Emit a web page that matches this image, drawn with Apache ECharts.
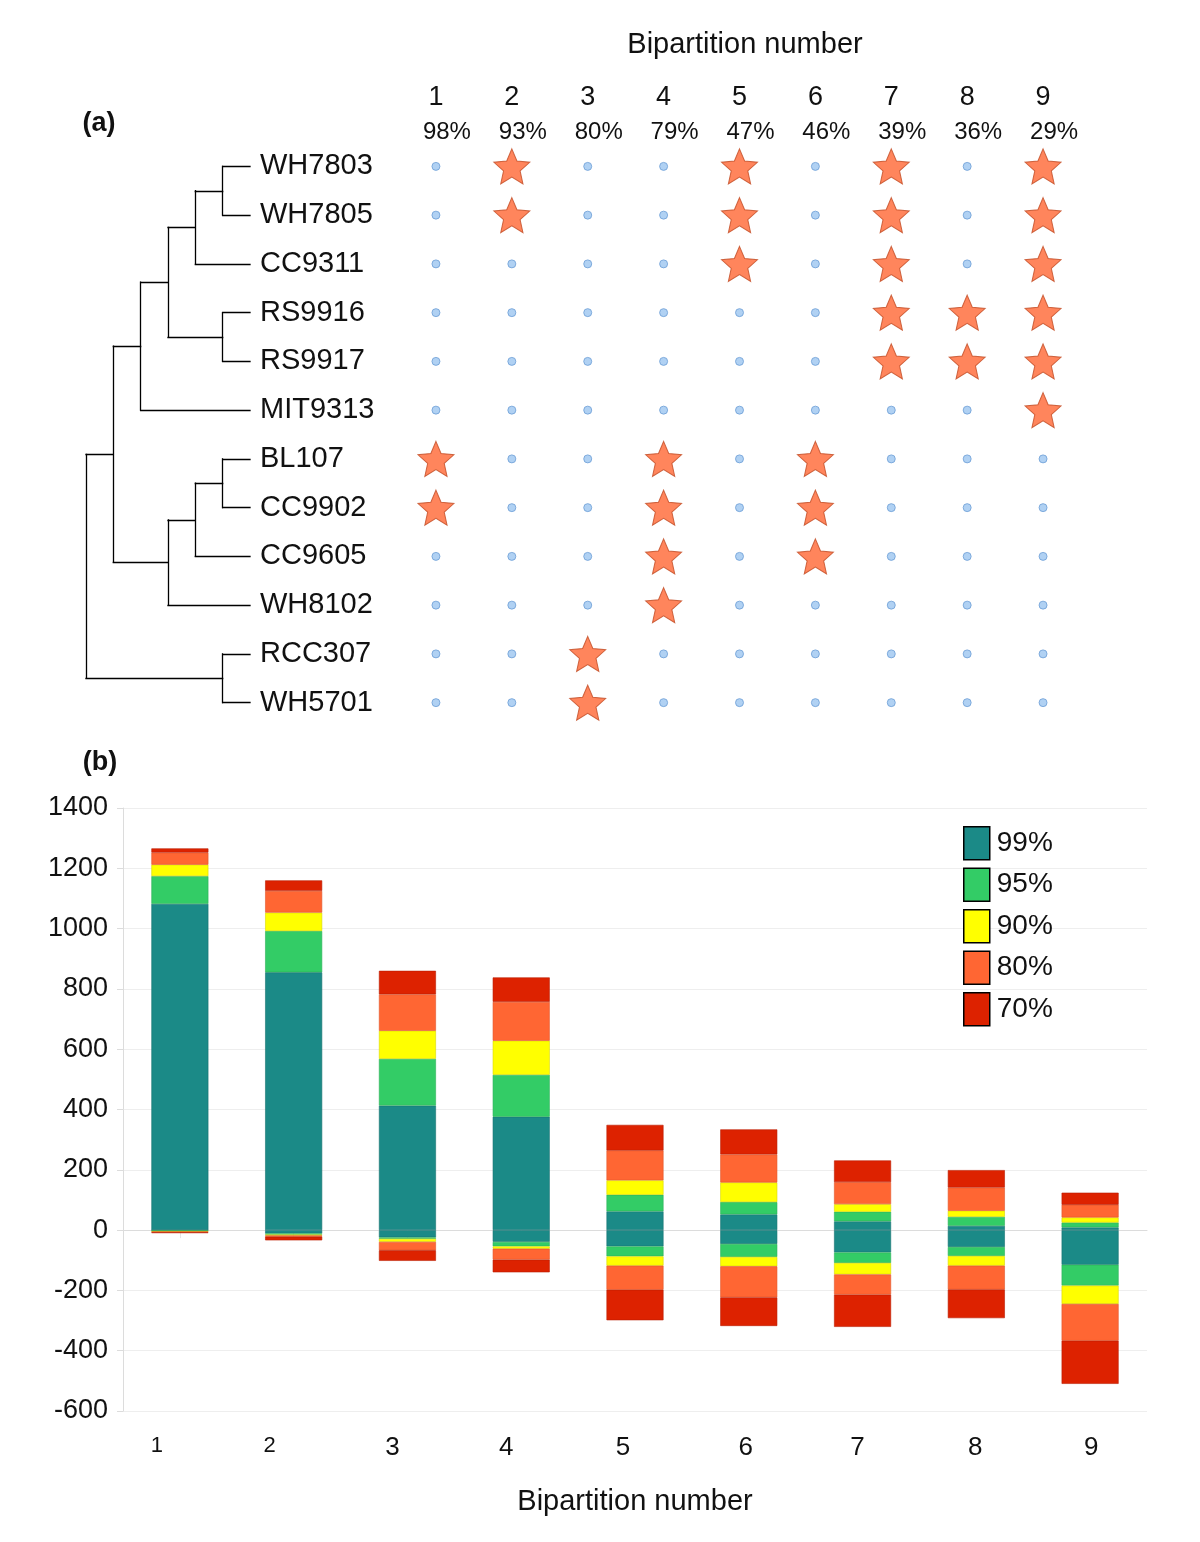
<!DOCTYPE html>
<html>
<head>
<meta charset="utf-8">
<script src="https://cdn.jsdelivr.net/npm/echarts@6/dist/echarts.min.js"></script>
<style>
  html, body { margin: 0; padding: 0; background: #fff; }
  #chart { width: 1200px; height: 1542px; }
</style>
</head>
<body>
<div id="chart"></div>
<script>
// ---------- DATA ----------
const taxa = ['WH7803','WH7805','CC9311','RS9916','RS9917','MIT9313','BL107','CC9902','CC9605','WH8102','RCC307','WH5701'];
const bipartitions = ['1','2','3','4','5','6','7','8','9'];
const bipSupport = ['98%','93%','80%','79%','47%','46%','39%','36%','29%'];
// taxa on one side of each bipartition (shown as stars)
const bipMembers = [
  ['BL107','CC9902'],
  ['WH7803','WH7805'],
  ['RCC307','WH5701'],
  ['BL107','CC9902','CC9605','WH8102'],
  ['WH7803','WH7805','CC9311'],
  ['BL107','CC9902','CC9605'],
  ['WH7803','WH7805','CC9311','RS9916','RS9917'],
  ['RS9916','RS9917'],
  ['WH7803','WH7805','CC9311','RS9916','RS9917','MIT9313']
];
// cladogram: d = node depth level, leaves at leafDepth
const leafDepth = 6;
const tree = {d:0, c:[
  {d:1, c:[
    {d:2, c:[
      {d:3, c:[
        {d:4, c:[{d:5, c:['WH7803','WH7805']}, 'CC9311']},
        {d:5, c:['RS9916','RS9917']}
      ]},
      'MIT9313'
    ]},
    {d:3, c:[
      {d:4, c:[{d:5, c:['BL107','CC9902']}, 'CC9605']},
      'WH8102'
    ]}
  ]},
  {d:5, c:['RCC307','WH5701']}
]};

// bar chart (b)
const levels = ['99%','95%','90%','80%','70%'];
const pos99 = [1082, 855, 413, 376, 62, 52, 29, 14, 9];
const pos95 = [92, 137, 155, 139, 55, 41, 32, 30, 16];
const pos90 = [38, 61, 93, 113, 48, 65, 25, 20, 17];
const pos80 = [40, 72, 121, 129, 99, 93, 73, 77, 42];
const pos70 = [14, 35, 78, 81, 85, 83, 72, 58, 40];
const neg99 = [-1, -11, -24, -39, -54, -46, -74, -56, -115];
const neg95 = [-3, -4, -5, -15, -33, -43, -35, -30, -69];
const neg90 = [-1, -3, -10, -8, -31, -31, -38, -32, -61];
const neg80 = [-2, -4, -28, -36, -80, -103, -67, -79, -122];
const neg70 = [-3, -12, -35, -42, -101, -95, -107, -95, -143];
const yTicks = {min: -600, max: 1400, step: 200};

// ---------- STYLE ----------
const FONT = 'Liberation Sans, Arial, Helvetica, sans-serif';
const levelColors = ['#1b8a87', '#33cc66', '#ffff00', '#ff6633', '#dd2200'];
const levelBorders = ['#167270', '#2bb058', '#d8d800', '#e0552a', '#bb1c00'];
const xLabelShift = [-23, -24, -15, -15, -12, -3, -5, -1, 1];
const xLabelSize = [22, 22, 26, 26, 26, 26, 26, 26, 26];

// ---------- BUILD ----------
const segments = [];
function layout(node) {
  if (typeof node === 'string') return {x: leafDepth, y: taxa.indexOf(node)};
  const kids = node.c.map(layout);
  const ys = kids.map(k => k.y);
  const y = ys.reduce((a, b) => a + b, 0) / ys.length;
  segments.push({coords: [[node.d, Math.min(...ys)], [node.d, Math.max(...ys)]]});
  kids.forEach(k => segments.push({coords: [[node.d, k.y], [k.x, k.y]]}));
  return {x: node.d, y: y};
}
layout(tree);

const starData = [], dotData = [];
bipMembers.forEach((mem, b) => {
  taxa.forEach((t, i) => {
    (mem.indexOf(t) >= 0 ? starData : dotData).push([b, i]);
  });
});

const posSets = [pos99, pos95, pos90, pos80, pos70];
const negSets = [neg99, neg95, neg90, neg80, neg70];
const barSeries = [];
[posSets, negSets].forEach(sets => {
  sets.forEach((vals, k) => {
    barSeries.push({
      type: 'bar', name: levels[k], stack: 'all', xAxisIndex: 3, yAxisIndex: 2,
      barWidth: 57, data: vals,
      itemStyle: {color: levelColors[k], borderColor: levelBorders[k], borderWidth: 0.6},
      emphasis: {disabled: true}
    });
  });
});

// five-pointed star symbol (inner radius 0.46 of outer)
function starPath() {
  let d = '';
  for (let i = 0; i < 10; i++) {
    const r = i % 2 === 0 ? 50 : 23;
    const a = -Math.PI / 2 + i * Math.PI / 5;
    d += (i === 0 ? 'M' : 'L') + (50 + r * Math.cos(a)).toFixed(2) + ',' + (50 + r * Math.sin(a)).toFixed(2) + ' ';
  }
  return 'path://' + d + 'Z';
}
const STAR = starPath();

const xRich = {};
bipartitions.forEach((b, i) => {
  const s = xLabelShift[i];
  xRich['s' + i] = {
    fontSize: xLabelSize[i], fontFamily: FONT, color: '#111',
    padding: s < 0 ? [0, -2 * s, 0, 0] : [0, 0, 0, 2 * s]
  };
});

const option = {
  backgroundColor: '#fff',
  animation: false,
  textStyle: {fontFamily: FONT},
  graphic: [
    {type: 'text', x: 745, y: 45, style: {text: 'Bipartition number', font: '29px ' + FONT, fill: '#111', textAlign: 'center', textVerticalAlign: 'middle'}},
    {type: 'text', x: 99, y: 124, style: {text: '(a)', font: 'bold 27px ' + FONT, fill: '#111', textAlign: 'center', textVerticalAlign: 'middle'}},
    {type: 'text', x: 100, y: 763, style: {text: '(b)', font: 'bold 27px ' + FONT, fill: '#111', textAlign: 'center', textVerticalAlign: 'middle'}}
  ],
  legend: {
    data: levels, orient: 'vertical', left: 963, top: 826, padding: 0,
    itemWidth: 26, itemHeight: 33, itemGap: 7, icon: 'rect',
    itemStyle: {borderColor: '#000', borderWidth: 1.5},
    textStyle: {fontSize: 28, color: '#111', fontFamily: FONT, padding: [0, 0, 0, 2]},
    selectedMode: false
  },
  grid: [
    {left: 86, width: 164, top: 142, height: 585, outerBoundsMode: 'none'},
    {left: 398, width: 683, top: 142, height: 585, outerBoundsMode: 'none'},
    {left: 123, right: 53, top: 808, bottom: 131, outerBoundsMode: 'none'}
  ],
  xAxis: [
    {gridIndex: 0, type: 'value', min: 0, max: leafDepth, show: false},
    {gridIndex: 1, type: 'category', data: bipartitions, position: 'top',
     axisLine: {show: false}, axisTick: {show: false}, splitLine: {show: false},
     axisLabel: {fontSize: 27, color: '#111', margin: 31, fontFamily: FONT}},
    {gridIndex: 1, type: 'category', data: bipSupport, position: 'top',
     axisLine: {show: false}, axisTick: {show: false}, splitLine: {show: false},
     axisLabel: {margin: -2, formatter: v => '{p|' + v + '}',
       rich: {p: {fontSize: 24, color: '#111', fontFamily: FONT, padding: [0, 0, 0, 22]}}}},
    {gridIndex: 2, type: 'category', data: bipartitions,
     axisLine: {show: true, lineStyle: {color: '#dcdcdc'}},
     axisTick: {show: true, alignWithLabel: true, length: 8, lineStyle: {color: '#e6e6e6'}},
     axisLabel: {margin: 24, formatter: (v, i) => '{s' + i + '|' + v + '}', rich: xRich},
     name: 'Bipartition number', nameLocation: 'middle', nameGap: 76,
     nameTextStyle: {fontSize: 29, color: '#111', fontFamily: FONT}}
  ],
  yAxis: [
    {gridIndex: 0, type: 'value', min: -0.5, max: taxa.length - 0.5, inverse: true, show: false},
    {gridIndex: 1, type: 'category', data: taxa, inverse: true,
     axisLine: {show: false}, axisTick: {show: false}, splitLine: {show: false},
     axisLabel: {align: 'left', margin: 138, fontSize: 29, color: '#111', fontFamily: FONT}},
    {gridIndex: 2, type: 'value', min: yTicks.min, max: yTicks.max, interval: yTicks.step,
     axisLine: {show: true, lineStyle: {color: '#dcdcdc'}},
     axisTick: {show: true, length: 6, lineStyle: {color: '#dcdcdc'}},
     splitLine: {show: true, lineStyle: {color: '#eeeeee'}},
     axisLabel: {fontSize: 27, color: '#111', margin: 15, fontFamily: FONT, formatter: v => String(v)}}
  ],
  series: [
    {type: 'lines', coordinateSystem: 'cartesian2d', xAxisIndex: 0, yAxisIndex: 0,
     data: segments, silent: true,
     lineStyle: {color: '#000', width: 1.3, opacity: 1, cap: 'square'}},
    {type: 'scatter', xAxisIndex: 1, yAxisIndex: 1, data: dotData, symbol: 'circle', symbolSize: 8,
     itemStyle: {color: '#9cc6f0', borderColor: '#6b9ed6', borderWidth: 1}, silent: true},
    {type: 'scatter', xAxisIndex: 1, yAxisIndex: 1, data: starData, symbol: STAR, symbolSize: [36, 35],
     itemStyle: {color: '#ff6633', borderColor: '#c24a22', borderWidth: 1}, silent: true}
  ].concat(barSeries)
};

const chart = echarts.init(document.getElementById('chart'), null, {renderer: 'canvas'});
chart.setOption(option);
</script>
</body>
</html>
